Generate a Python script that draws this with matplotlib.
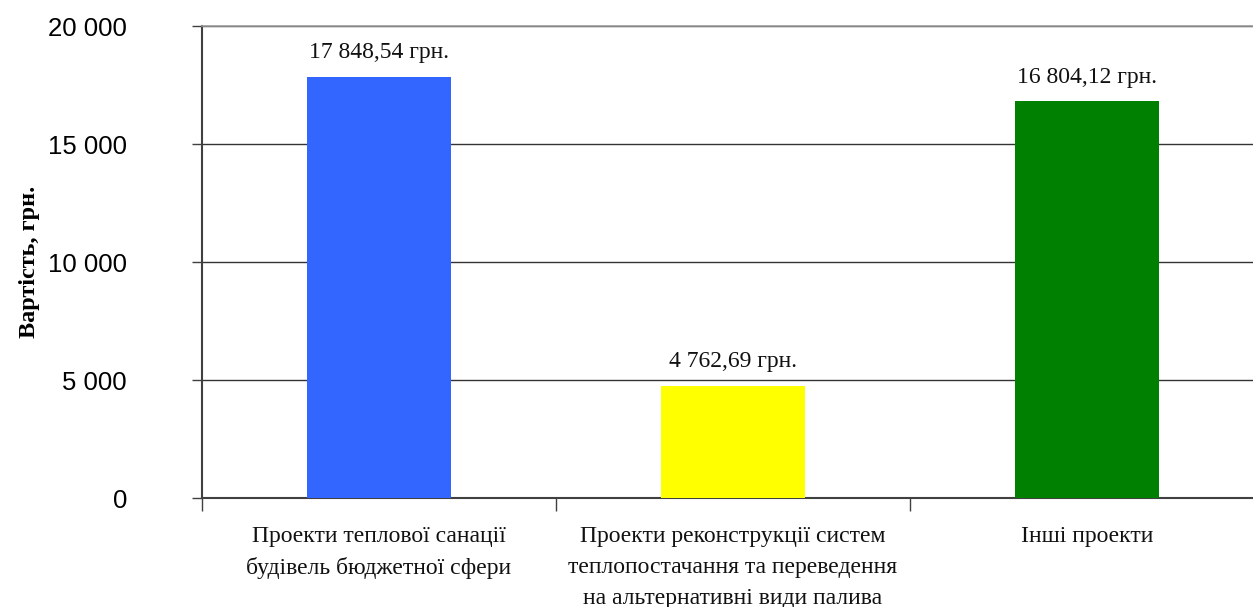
import matplotlib
matplotlib.use("Agg")
import matplotlib.pyplot as plt
from matplotlib.ticker import FuncFormatter

# ---------------------------------------------------------------------------
# Data
# ---------------------------------------------------------------------------
categories = [
    "Проекти теплової санації\nбудівель бюджетної сфери",
    "Проекти реконструкції систем\nтеплопостачання та переведення\nна альтернативні види палива",
    "Інші проекти",
]
values = [17848.54, 4762.69, 16804.12]
value_labels = ["17 848,54 грн.", "4 762,69 грн.", "16 804,12 грн."]
bar_colors = ["#3366FF", "#FFFF00", "#008000"]
y_ticks = [0, 5000, 10000, 15000, 20000]

SERIF = ["Liberation Serif", "DejaVu Serif"]
SANS = ["Liberation Sans", "DejaVu Sans"]

# ---------------------------------------------------------------------------
# Figure
# ---------------------------------------------------------------------------
fig = plt.figure(figsize=(12.53, 6.07), dpi=100)
# axes run slightly past the right edge of the picture, as in the reference
ax = fig.add_axes([202 / 1253, 109 / 607, 1062 / 1253, 472 / 607])

x = list(range(len(categories)))
ax.bar(x, values, width=0.404, color=bar_colors, zorder=3)

for xi, v, lab in zip(x, values, value_labels):
    ax.annotate(lab, (xi, v), xytext=(0, 13.5), textcoords="offset points",
                ha="center", va="baseline", fontsize=17, family=SERIF,
                color="#111111")

ax.set_xlim(-0.5, len(categories) - 0.5)
ax.set_ylim(0, 20000)

ax.set_yticks(y_ticks)
ax.yaxis.set_major_formatter(FuncFormatter(lambda v, p: f"{int(v):,}".replace(",", " ")))
ax.tick_params(axis="y", length=7, width=1, color="#404040", pad=47,
               labelsize=18.5)
for t in ax.get_yticklabels():
    t.set_family(SANS)

# category ticks sit at the boundaries, labels at the centres
ax.set_xticks([-0.5, 0.5, 1.5, 2.5])
ax.set_xticklabels([])
ax.set_xticks(x, minor=True)
ax.set_xticklabels(categories, minor=True, fontsize=17, family=SERIF,
                   linespacing=1.62, color="#111111")
ax.tick_params(axis="x", which="major", length=9, width=1, color="#404040")
ax.tick_params(axis="x", which="minor", length=0, pad=20)

ax.yaxis.grid(True, color="#333333", linewidth=1, zorder=0)
ax.set_axisbelow(True)

ax.spines["left"].set_color("#404040")
ax.spines["left"].set_linewidth(1.5)
ax.spines["bottom"].set_color("#404040")
ax.spines["bottom"].set_linewidth(1.5)
ax.spines["top"].set_color("#999999")
ax.spines["top"].set_linewidth(1.2)
ax.spines["right"].set_visible(False)

ax.set_ylabel("Вартість, грн.", fontsize=17.5, fontweight="bold", family=SERIF,
              labelpad=0)
ax.yaxis.set_label_coords(-162 / 1062, 0.5)

fig.savefig("out.png", dpi=100)
